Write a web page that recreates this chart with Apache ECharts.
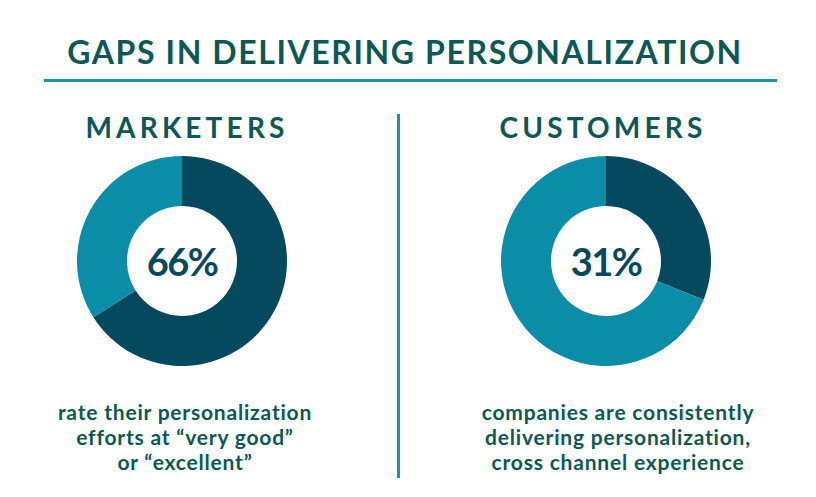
<!DOCTYPE html>
<html>
<head>
<meta charset="utf-8">
<script src="https://cdn.jsdelivr.net/npm/echarts@6/dist/echarts.min.js"></script>
<style>
html,body{margin:0;padding:0;background:#fff;}
#chart{width:816px;height:497px;}
</style>
</head>
<body>
<div id="chart"></div>
<script>
const title = 'GAPS IN DELIVERING PERSONALIZATION';
const groups = ['MARKETERS', 'CUSTOMERS'];
const values = [66, 31];
const captions = [
  'rate their personalization\nefforts at \u201cvery good\u201d\nor \u201cexcellent\u201d',
  'companies are consistently\ndelivering personalization,\ncross channel experience'
];

const DARK = '#05495f';
const LIGHT = '#0a8ea8';
const TEXT = '#0b5955';
const RULE = '#1b93a9';
const FONT = 'Lato';

const centers = [[182, 261], [606, 261]];
const headX = [187, 603];
const capX = [185, 618];

const chart = echarts.init(document.getElementById('chart'), null, { renderer: 'svg' });

const series = values.map((v, i) => ({
  type: 'pie',
  center: centers[i],
  radius: [55, 105],
  startAngle: 90,
  clockwise: true,
  silent: true,
  animation: false,
  label: {
    show: true,
    position: 'center',
    formatter: p => p.dataIndex === 0 ? p.value + '%' : '',
    fontFamily: FONT,
    fontWeight: 'bold',
    fontSize: 38,
    color: DARK
  },
  labelLine: { show: false },
  emphasis: { disabled: true },
  data: [
    { value: v, itemStyle: { color: DARK } },
    { value: 100 - v, itemStyle: { color: LIGHT } }
  ]
}));

const graphics = [
  { type: 'text', x: 405, y: 51, style: { text: title, font: 'bold 32px ' + FONT, fill: TEXT, textAlign: 'center', textVerticalAlign: 'middle' } },
  { type: 'rect', shape: { x: 44, y: 79, width: 733, height: 3 }, style: { fill: RULE } },
  { type: 'rect', shape: { x: 397, y: 114, width: 3, height: 364 }, style: { fill: RULE } }
];
groups.forEach((g, i) => {
  graphics.push({ type: 'text', x: headX[i], y: 127, style: { text: g, font: 'bold 28px ' + FONT, fill: TEXT, textAlign: 'center', textVerticalAlign: 'middle' } });
  graphics.push({ type: 'text', x: capX[i], y: 436, style: { text: captions[i], font: 'bold 21px ' + FONT, lineHeight: 25, fill: TEXT, textAlign: 'center', textVerticalAlign: 'middle' } });
});

chart.setOption({
  animation: false,
  series: series,
  graphic: graphics
});

// letter spacing to mimic the wide tracking of the reference typeface
function track() {
  const root = document.getElementById('chart');
  root.querySelectorAll('text').forEach(t => {
    const s = t.textContent;
    let sp = 0;
    if (s === title) sp = 1.6;
    else if (groups.indexOf(s) >= 0) sp = 4.2;
    else if (/%$/.test(s)) sp = -1.5;
    else if (s.length) sp = 0.8;
    t.style.letterSpacing = sp + 'px';
  });
}
track();
chart.on('finished', track);
</script>
</body>
</html>
